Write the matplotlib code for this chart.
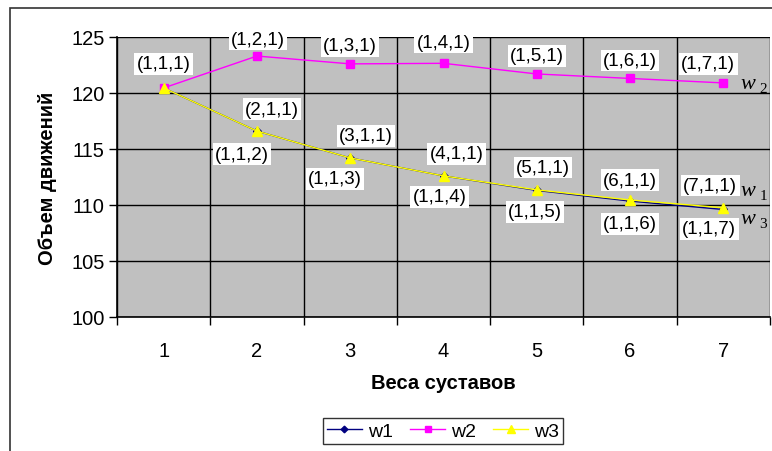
import matplotlib
matplotlib.use('Agg')
import matplotlib.pyplot as plt
from matplotlib.patches import Rectangle

## Данные ##
x = [1, 2, 3, 4, 5, 6, 7]
w1 = [120.45, 116.6, 114.2, 112.6, 111.3, 110.35, 109.6]
w2 = [120.45, 123.3, 122.6, 122.65, 121.7, 121.3, 120.9]
w3 = [120.45, 116.6, 114.2, 112.6, 111.35, 110.45, 109.75]

labels_w2 = ["(1,1,1)", "(1,2,1)", "(1,3,1)", "(1,4,1)", "(1,5,1)", "(1,6,1)", "(1,7,1)"]
labels_w1 = [None, "(2,1,1)", "(3,1,1)", "(4,1,1)", "(5,1,1)", "(6,1,1)", "(7,1,1)"]
labels_w3 = [None, "(1,1,2)", "(1,1,3)", "(1,1,4)", "(1,1,5)", "(1,1,6)", "(1,1,7)"]

## смещения подписей в пикселях ##
off_w2 = [(0, 24), (1, 17), (0, 18), (0, 21), (0, 18), (0, 18), (-15, 19)]
off_w1 = [None, (15, 22), (16, 22), (13, 22), (6, 23), (0, 21), (-13, 24)]
off_w3 = [None, (-15, -23), (-15, -21), (-4, -21), (-2, -22), (0, -24), (-14, -21)]

plt.rcParams['font.family'] = ['Liberation Sans', 'DejaVu Sans']

fig = plt.figure(figsize=(7.72, 4.52), dpi=100)
fig.patch.set_facecolor('white')

## рамка всей диаграммы ##
fig.patches.append(Rectangle((10 / 772, -0.1), 1.2, 1 - 9 / 452 + 0.1,
                             transform=fig.transFigure, fill=False,
                             edgecolor='#333333', lw=1.2))

ax = fig.add_axes([117 / 772, 1 - 318 / 452, 653 / 772, 280 / 452])
ax.set_facecolor('#C0C0C0')

ax.plot(x, w1, color='#000080', lw=1, marker='D', ms=4.5, label='w1', zorder=3)
ax.plot(x, w2, color='#FF00FF', lw=1, marker='s', ms=5.5, label='w2', zorder=4)
ax.plot(x, w3, color='#FFFF00', lw=1, marker='^', ms=7, label='w3', zorder=5)

box = dict(boxstyle='square,pad=0.12', fc='white', ec='none')
for vals, labs, offs in [(w2, labels_w2, off_w2), (w1, labels_w1, off_w1), (w3, labels_w3, off_w3)]:
    for xi, yi, lab, off in zip(x, vals, labs, offs):
        if lab is None:
            continue
        ax.annotate(lab, (xi, yi), xytext=off, textcoords='offset pixels',
                    ha='center', va='center', fontsize=13.5, bbox=box, zorder=6)

## подписи w1, w2, w3 справа ##
for name, sub, yv, dy in [('w', '2', w2[-1], -1), ('w', '1', w3[-1], 17), ('w', '3', w3[-1], -11)]:
    ax.annotate(name, (7, yv), xytext=(25, dy), textcoords='offset pixels',
                ha='center', va='center', fontsize=16, style='italic',
                family='Liberation Serif', annotation_clip=False, zorder=6)
    ax.annotate(sub, (7, yv), xytext=(40, dy - 5), textcoords='offset pixels',
                ha='center', va='center', fontsize=11,
                family='Liberation Serif', annotation_clip=False, zorder=6)

ax.set_xlim(0.5, 7.5)
ax.set_ylim(100, 125)
ax.set_yticks([100, 105, 110, 115, 120, 125])
ax.set_xticks([0.5 + i for i in range(8)])
ax.set_xticklabels([])
ax.set_xticks(x, minor=True)
ax.set_xticklabels([str(v) for v in x], minor=True)
ax.tick_params(axis='x', which='minor', length=0, pad=17, labelsize=14.5)
ax.tick_params(axis='x', which='major', length=6, width=1, direction='out')
ax.tick_params(axis='y', length=6, width=1, direction='out', labelsize=14.5, pad=3)
ax.grid(True, which='major', color='black', lw=1)
ax.set_axisbelow(True)

for s in ['top', 'right']:
    ax.spines[s].set_visible(False)
for s in ['left', 'bottom']:
    ax.spines[s].set_color('black')
    ax.spines[s].set_linewidth(1.2)

ax.set_xlabel('Веса суставов', fontsize=14.5, fontweight='bold', labelpad=10)
ax.set_ylabel('Объем движений', fontsize=14.5, fontweight='bold', labelpad=10)

leg = fig.legend(loc='center', bbox_to_anchor=(443 / 772, 1 - 432 / 452), ncol=3,
                 fontsize=14, frameon=True, fancybox=False, handlelength=1.8,
                 handletextpad=0.3, columnspacing=0.9, borderpad=0.2,
                 markerscale=0.75)
leg.get_frame().set_edgecolor('black')
leg.get_frame().set_linewidth(1)

fig.savefig('out.png', dpi=100)
